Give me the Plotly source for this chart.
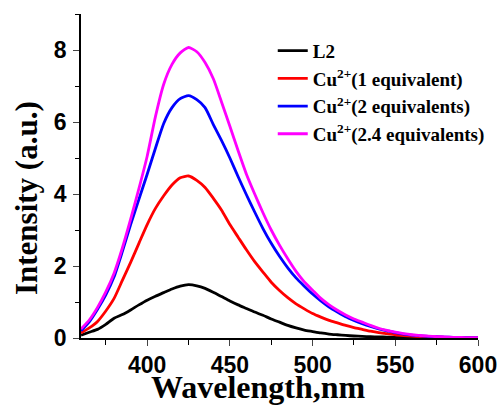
import plotly.graph_objects as go

wavelength = list(range(360, 601, 5))

L2 = [0.08, 0.16, 0.24, 0.38, 0.55, 0.65, 0.78, 0.92, 1.05, 1.16, 1.26, 1.36, 1.44, 1.48, 1.45,
      1.38, 1.27, 1.15, 1.03, 0.92, 0.82, 0.72, 0.63, 0.53, 0.44, 0.35, 0.28, 0.22, 0.18, 0.14,
      0.11, 0.09, 0.07, 0.055, 0.045, 0.035, 0.03, 0.025, 0.02, 0.015, 0.012, 0.01, 0.008, 0.006,
      0.005, 0.004, 0.003, 0.002, 0.002]

cu_1eq = [0.14, 0.28, 0.46, 0.75, 1.1, 1.6, 2.1, 2.63, 3.15, 3.6, 3.95, 4.25, 4.45, 4.5, 4.38,
          4.18, 3.88, 3.55, 3.15, 2.8, 2.45, 2.12, 1.83, 1.55, 1.32, 1.12, 0.95, 0.81, 0.68, 0.58,
          0.49, 0.42, 0.35, 0.29, 0.24, 0.19, 0.15, 0.12, 0.09, 0.07, 0.055, 0.04, 0.03, 0.025,
          0.02, 0.015, 0.01, 0.008, 0.006]

cu_2eq = [0.2, 0.45, 0.8, 1.2, 1.7, 2.4, 3.15, 3.85, 4.55, 5.27, 5.96, 6.4, 6.65, 6.73, 6.62,
          6.4, 5.93, 5.48, 5.0, 4.48, 3.98, 3.5, 3.04, 2.63, 2.27, 1.95, 1.67, 1.44, 1.22, 1.03,
          0.86, 0.72, 0.59, 0.49, 0.4, 0.32, 0.25, 0.2, 0.15, 0.11, 0.08, 0.06, 0.045, 0.035,
          0.025, 0.02, 0.015, 0.01, 0.008]

cu_24eq = [0.25, 0.5, 0.85, 1.28, 1.8, 2.5, 3.3, 4.15, 5.05, 6.15, 7.05, 7.6, 7.92, 8.07, 7.95,
           7.65, 7.2, 6.55, 5.88, 5.2, 4.55, 4.0, 3.48, 3.0, 2.58, 2.2, 1.85, 1.56, 1.33, 1.1,
           0.92, 0.77, 0.64, 0.53, 0.44, 0.35, 0.27, 0.21, 0.16, 0.12, 0.09, 0.07, 0.05, 0.04,
           0.03, 0.02, 0.015, 0.01, 0.008]

series = [
    ("L2", L2, "#000000"),
    ("Cu<sup>2+</sup>(1 equivalent)", cu_1eq, "#FF0000"),
    ("Cu<sup>2+</sup>(2 equivalents)", cu_2eq, "#0000FF"),
    ("Cu<sup>2+</sup>(2.4 equivalents)", cu_24eq, "#FF00FF"),
]

x_ticks = [400, 450, 500, 550, 600]
y_ticks = [0, 2, 4, 6, 8]

fig = go.Figure()
for name, vals, color in series:
    fig.add_trace(go.Scatter(x=wavelength, y=vals, name=name, mode="lines",
                             line=dict(color=color, width=2.8, shape="spline", smoothing=0.6)))

tickfont = dict(family="Liberation Sans", size=23, color="black", weight="bold")
serif = "Liberation Serif"

fig.update_layout(
    width=502, height=406,
    margin=dict(l=81, r=24, t=14, b=68),
    paper_bgcolor="white", plot_bgcolor="white",
    showlegend=True,
    legend=dict(x=0.483, y=0.945, xanchor="left", yanchor="top",
                font=dict(family=serif, size=19, color="black", weight="bold"),
                bgcolor="rgba(0,0,0,0)", tracegroupgap=0, itemwidth=30),
    xaxis=dict(range=[360, 600], tickvals=x_ticks, ticks="outside", ticklen=6, tickwidth=1.2,
               showline=True, linecolor="black", linewidth=1.5, showgrid=False, zeroline=False,
               tickfont=tickfont, ticklabelstandoff=0, automargin=False,
               minor=dict(ticks="outside", ticklen=5, tickwidth=1.2, dtick=25, tick0=375,
                          showgrid=False, tickcolor="black")),
    yaxis=dict(range=[0, 9], tickvals=y_ticks, ticks="outside", ticklen=6, tickwidth=1.2,
               showline=True, linecolor="black", linewidth=1.5, showgrid=False, zeroline=False,
               tickfont=tickfont, ticklabelstandoff=2, automargin=False,
               minor=dict(ticks="outside", ticklen=4, tickwidth=1.2, dtick=1, tick0=1,
                          showgrid=False, tickcolor="black")),
    annotations=[
        dict(text="Wavelength,nm", xref="paper", yref="paper", x=0.448, y=-0.15,
             xanchor="center", yanchor="middle", showarrow=False,
             font=dict(family=serif, size=32, color="black", weight="bold")),
        dict(text="Intensity (a.u.)", xref="paper", yref="paper", x=-0.1385, y=0.432,
             xanchor="center", yanchor="middle", showarrow=False, textangle=-90,
             font=dict(family=serif, size=31, color="black", weight="bold")),
    ],
)

fig.write_html("out.html")
